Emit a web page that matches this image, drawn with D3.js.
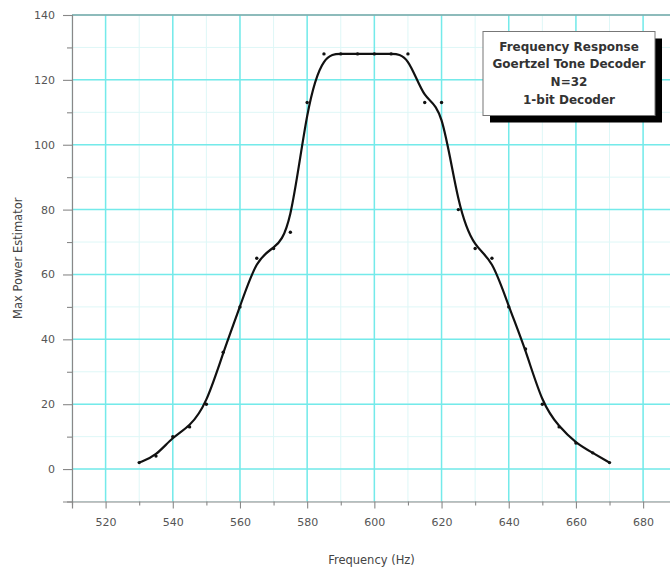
<!DOCTYPE html>
<html>
<head>
<meta charset="utf-8">
<script src="https://cdn.jsdelivr.net/npm/d3@7/dist/d3.min.js"></script>
<style>
  body { margin: 0; background: #fff; }
  svg { display: block; font-family: "DejaVu Sans", Arial, sans-serif; }
</style>
</head>
<body>
<svg id="chart" width="670" height="573"></svg>
<script>
// ---- data ----
const frequencies = [530, 535, 540, 545, 550, 555, 560, 565, 570, 575, 580, 585, 590, 595, 600,
                     605, 610, 615, 620, 625, 630, 635, 640, 645, 650, 655, 660, 665, 670];
const powerValues = [2, 4, 10, 13, 20, 36, 50, 65, 68, 73, 113, 128, 128, 128, 128,
                     128, 128, 113, 113, 80, 68, 65, 50, 37, 20, 13, 8, 5, 2];
const xTicks = [520, 540, 560, 580, 600, 620, 640, 660, 680];
const yTicks = [0, 20, 40, 60, 80, 100, 120, 140];
const legendLines = ["Frequency Response", "Goertzel Tone Decoder", "N=32", "1-bit Decoder"];
const xTitle = "Frequency (Hz)";
const yTitle = "Max Power Estimator";

(function () {
const svg = d3.select("#chart");
const pLeft = 72, pRight = 671, pTop = 15, pBottom = 501.5;
const font = "'DejaVu Sans', Arial, sans-serif";

const x = d3.scaleLinear().domain([510, 688.3]).range([pLeft, pRight]);
const y = d3.scaleLinear().domain([-10, 140]).range([pBottom, pTop]);

const xMinor = d3.range(510, 690, 10);
const yMinor = d3.range(-10, 141, 10);

// minor grid
svg.append("g").selectAll("line").data(xMinor).join("line")
  .attr("x1", d => x(d)).attr("x2", d => x(d)).attr("y1", pTop).attr("y2", pBottom)
  .attr("stroke", "#def7f7").attr("stroke-width", 1);
svg.append("g").selectAll("line").data(yMinor).join("line")
  .attr("x1", pLeft).attr("x2", pRight).attr("y1", d => y(d)).attr("y2", d => y(d))
  .attr("stroke", "#def7f7").attr("stroke-width", 1);

// major grid
svg.append("g").selectAll("line").data(xTicks).join("line")
  .attr("x1", d => x(d)).attr("x2", d => x(d)).attr("y1", pTop).attr("y2", pBottom)
  .attr("stroke", "#74eaea").attr("stroke-width", 1.5);
svg.append("g").selectAll("line").data(yTicks).join("line")
  .attr("x1", pLeft).attr("x2", pRight).attr("y1", d => y(d)).attr("y2", d => y(d))
  .attr("stroke", "#74eaea").attr("stroke-width", 1.5);

// top frame
svg.append("line").attr("x1", pLeft).attr("x2", pRight).attr("y1", pTop).attr("y2", pTop)
  .attr("stroke", "#888").attr("stroke-width", 1.2);

// axes
const axisColor = "#888";
const gx = svg.append("g").attr("transform", `translate(0,${pBottom})`)
  .call(d3.axisBottom(x).tickValues(xTicks).tickSize(7).tickPadding(10).tickFormat(d3.format("d")));
const gxMinor = svg.append("g").attr("transform", `translate(0,${pBottom})`)
  .call(d3.axisBottom(x).tickValues(xMinor.filter(v => v % 20 !== 0)).tickSize(4).tickFormat(""));
const gy = svg.append("g").attr("transform", `translate(${pLeft},0)`)
  .call(d3.axisLeft(y).tickValues(yTicks).tickSize(9).tickPadding(8).tickFormat(d3.format("d")));
const gyMinor = svg.append("g").attr("transform", `translate(${pLeft},0)`)
  .call(d3.axisLeft(y).tickValues(yMinor.filter(v => v % 20 !== 0)).tickSize(5).tickFormat(""));
[gx, gxMinor, gy, gyMinor].forEach(g => {
  g.selectAll(".domain").attr("stroke", axisColor).attr("stroke-width", 1.2);
  g.selectAll(".tick line").attr("stroke", axisColor).attr("stroke-width", 1.1);
  g.selectAll("text").attr("fill", "#555").attr("font-size", 11).attr("font-family", font);
});
gxMinor.select(".domain").remove();
gyMinor.select(".domain").remove();

// axis titles
svg.append("text").attr("x", (pLeft + pRight) / 2).attr("y", 564)
  .attr("text-anchor", "middle").attr("font-size", 11.5).attr("font-family", font)
  .attr("fill", "#444").text(xTitle);
svg.append("text").attr("transform", `translate(22,${(pTop + pBottom) / 2}) rotate(-90)`)
  .attr("text-anchor", "middle").attr("font-size", 11.5).attr("font-family", font)
  .attr("fill", "#444").text(yTitle);

// curve
const data = frequencies.map((f, i) => ({ f, v: powerValues[i] }));
svg.append("path").datum(data)
  .attr("fill", "none").attr("stroke", "#111").attr("stroke-width", 2.2)
  .attr("d", d3.line().x(d => x(d.f)).y(d => y(d.v)).curve(d3.curveBasis));

// markers
svg.append("g").selectAll("circle").data(data).join("circle")
  .attr("cx", d => x(d.f)).attr("cy", d => y(d.v)).attr("r", 1.7).attr("fill", "#111");

// legend box
const bx = 483, by = 31.5, bw = 172, bh = 84;
svg.append("rect").attr("x", bx + 7).attr("y", by + 7).attr("width", bw).attr("height", bh).attr("fill", "#000");
svg.append("rect").attr("x", bx).attr("y", by).attr("width", bw).attr("height", bh)
  .attr("fill", "#fff").attr("stroke", "#777").attr("stroke-width", 1);
svg.append("g").selectAll("text").data(legendLines).join("text")
  .attr("x", bx + bw / 2).attr("y", (d, i) => 50.5 + i * 17.8)
  .attr("text-anchor", "middle").attr("font-size", 12).attr("font-weight", "bold")
  .attr("font-family", font).attr("fill", "#333").text(d => d);
})();
</script>
</body>
</html>
